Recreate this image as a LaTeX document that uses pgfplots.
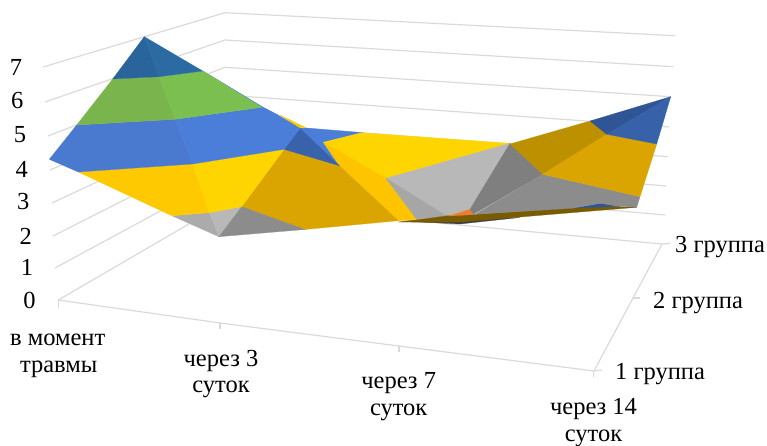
\documentclass[border=0pt]{standalone}
\usepackage{pgfplots}
\pgfplotsset{compat=1.18}
\usepackage{fontspec}
\setmainfont{Liberation Serif}

% one shaded facet of the surface
\newcommand{\facet}[2]{\addplot[fill=#1,draw=#1,line width=0.25pt,line join=round] coordinates {#2} --cycle;}
% one pale rule of the walls and floor
\newcommand{\rul}[1]{\addplot[draw=wall,line width=1.2pt] coordinates {#1};}
% one line of text at a position of the axis
\newcommand{\lab}[3][center]{\node[anchor=#1,inner sep=0pt,text=black,font=\fontsize{24.5}{28}\selectfont] at (axis cs:#2) {#3};}

\definecolor{wall}{HTML}{DADADA}
\definecolor{navyL}{HTML}{2A649C}
\definecolor{navyR}{HTML}{2B6AA3}
\definecolor{greenL}{HTML}{79B54C}
\definecolor{greenR}{HTML}{7BBF50}
\definecolor{blueL}{HTML}{4A79D0}
\definecolor{blueR}{HTML}{4A7ED9}
\definecolor{blueS}{HTML}{3863AA}
\definecolor{yelL}{HTML}{FFC900}
\definecolor{yelR}{HTML}{FFD500}
\definecolor{amber}{HTML}{DAA500}
\definecolor{amberD}{HTML}{BD9000}
\definecolor{orangeY}{HTML}{FFC400}
\definecolor{greyA}{HTML}{ABABAB}
\definecolor{greyB}{HTML}{B8B8B8}
\definecolor{greyC}{HTML}{8C8C8C}
\definecolor{greyD}{HTML}{7F7F7F}
\definecolor{greyE}{HTML}{A6A6A6}
\definecolor{steelA}{HTML}{2F5597}
\definecolor{steelB}{HTML}{3761A8}
\definecolor{brown}{HTML}{7A5C00}
\definecolor{ink}{HTML}{404040}
\definecolor{peach}{HTML}{ED7D31}

\begin{document}
\begin{tikzpicture}
\path[use as bounding box] (0,0) rectangle (767pt,446pt);
\begin{axis}[
  at={(0,0)},anchor=south west,
  x=1pt,y=1pt,xmin=0,xmax=767,ymin=0,ymax=446,
  y dir=reverse,axis lines=none,clip=false,
  ticks=none,
]
% side wall levels 7..0
\rul{(43,67)(225,12.7)}
\rul{(45,102)(225,40)}
\rul{(48,136)(225,67.3)}
\rul{(50,170)(225,95)}
\rul{(52,203)(225,122)}
\rul{(53,236)(225,149)}
\rul{(55,268)(225,176)}
\rul{(58.3,300)(225,203)}
% back wall levels 7..0
\rul{(225,12.7)(675,35.7)}
\rul{(225,40)(673.3,66.7)}
\rul{(225,67.3)(670.5,96.7)}
\rul{(225,95)(669,127)}
\rul{(225,122)(667.7,156.7)}
\rul{(225,149)(666,186)}
\rul{(225,176)(665,215)}
\rul{(225,203)(662,244)}
% floor edges and ticks
\rul{(58.3,300)(220,323)(399,346)(594,371)}
\rul{(594,371)(633,298)(662,244)}
\rul{(58.5,300)(58.5,308)}
\rul{(220,323)(220,329)}
\rul{(399,346)(399,352)}
\rul{(593.5,371)(593.5,377)}
\rul{(594,371)(602,370)}
\rul{(633,298)(640,298)}
\rul{(662,244)(670,243.5)}

% surface, rear facets first
\facet{blueR}{(300,128.3)(306,128)(363,132.7)(323.3,142.3)(339.3,165.7)}
\facet{yelR}{(323.3,142.3)(361.7,132.7)(510,143.3)(386,178.3)}
\facet{orangeY}{(323.3,142.3)(339.3,165.7)(398.3,220.7)(416.7,219.3)(386,178.3)}
\facet{greyB}{(386,178.3)(510,143.3)(470,209.3)(446.7,216)}
\facet{greyE}{(386,178.3)(446.7,216)(416.7,219.3)}
\facet{ink}{(412,221.6)(460,224)(520,217.5)(470,219)}
\facet{brown}{(398.3,222)(416.7,219.8)(448.3,215.7)(475,214.3)(596.7,206)(636.7,207.3)(460,222)(430,222.3)}
\facet{steelA}{(573,208.2)(600,203.3)(620,206.3)}
\facet{peach}{(448.3,216)(470,209.3)(473.3,214.6)}
\facet{greyD}{(510,143.3)(470,209.3)(473.3,214.3)(542.7,174.3)}
\facet{greyC}{(542.7,174.3)(640,196.7)(636.7,207.3)(620,206.3)(600,203.3)(573,208.2)(475,214.3)}
\facet{amberD}{(510,144)(590,121)(606.7,134.3)(542.7,174.3)}
\facet{amber}{(606.7,134.3)(656.7,144)(640,196.7)(542.7,174.3)}
\facet{steelA}{(590,121)(670.7,96.7)(606.7,134.3)}
\facet{steelB}{(670.7,96.7)(656.7,144)(606.7,134.3)}

\facet{amber}{(284,149.3)(339.3,165.7)(398.3,220.7)(305,229.5)(241.7,206.7)}
\facet{blueS}{(300,128.3)(284,149.3)(339.3,165.7)}
\facet{greyA}{(171.7,215.7)(209.3,212.7)(219,236.7)}
\facet{greyB}{(209.3,212.7)(241.7,206.7)(219,236.7)}
\facet{greyC}{(241.7,206.7)(305,229.5)(219,236.7)}
\facet{yelL}{(78.3,172)(192.7,164)(209.3,212.7)(171.7,215.7)}
\facet{yelR}{(192.7,164)(284,149.3)(241.7,206.7)(209.3,212.7)}
\facet{yelL}{(280,115)(306,127.7)(298.3,127.7)}
\facet{blueL}{(49.3,159.3)(76.7,125)(175,119.3)(192.7,164)(78.3,172)}
\facet{blueR}{(175,119.3)(261.7,107.3)(278,115)(300,128.3)(284,149.3)(192.7,164)}
\facet{blueR}{(203,71)(262,106.6)(278,115)(261.7,107.3)}
\facet{greenL}{(112.7,79)(159.3,76.7)(175,119.3)(76.7,125)}
\facet{greenR}{(159.3,76.7)(202.7,71)(261.7,107.3)(175,119.3)}
\facet{navyL}{(144.3,36.7)(159.3,76.7)(112.7,79)}
\facet{navyR}{(144.3,36.7)(202.7,71)(159.3,76.7)}

% value scale
\lab{16,67}{7}
\lab{17.3,101}{6}
\lab{20,135}{5}
\lab{21.7,169.5}{4}
\lab{23.3,202}{3}
\lab{25.7,236}{2}
\lab{27,267.5}{1}
\lab{29.4,300}{0}
% time categories
\lab{57.7,340}{в момент}
\lab{58.7,369}{травмы}
\lab{221,360.5}{через 3}
\lab{221,389}{суток}
\lab{398.7,383.5}{через 7}
\lab{398.7,412.5}{суток}
\lab{593.5,409.5}{через 14}
\lab{593.5,438.5}{суток}
% groups
\lab[west]{675,247}{3 группа}
\lab[west]{653,303}{2 группа}
\lab[west]{615,373.7}{1 группа}
\end{axis}
\end{tikzpicture}
\end{document}
